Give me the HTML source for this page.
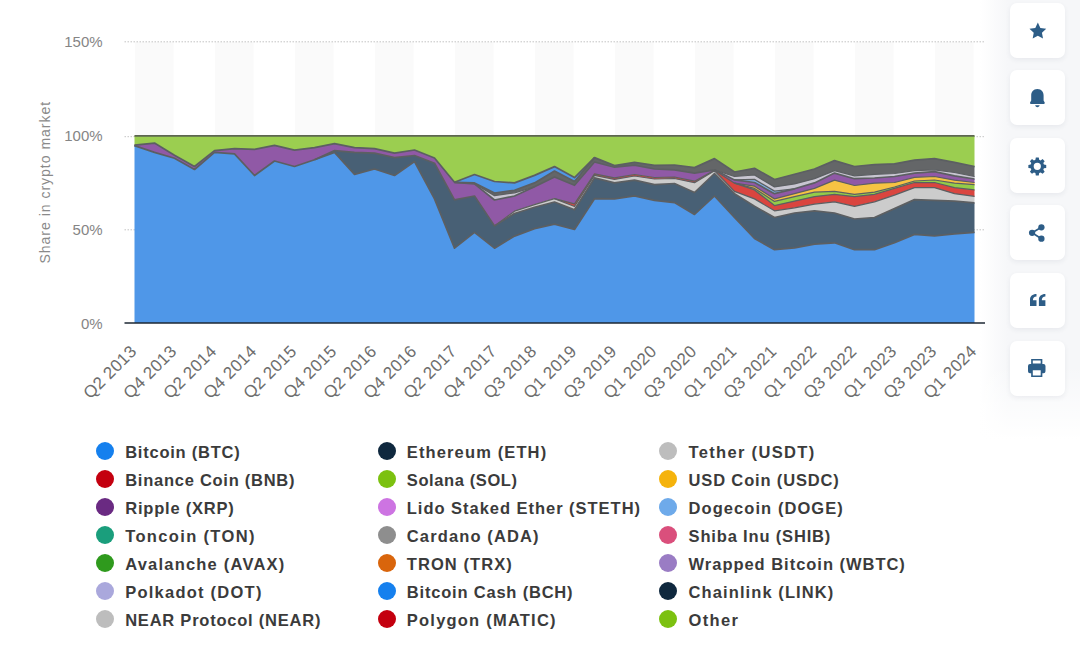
<!DOCTYPE html>
<html><head><meta charset="utf-8"><title>Share in crypto market</title>
<style>
html,body{margin:0;padding:0;background:#fff;}
body{width:1080px;height:671px;position:relative;overflow:hidden;font-family:"Liberation Sans",sans-serif;}
#side{position:absolute;left:980px;top:0;width:100px;height:440px;background:linear-gradient(to right,rgba(246,247,249,0) 0%,rgba(246,247,249,1) 28%,rgba(246,247,249,1) 100%);}
#sidefade{position:absolute;left:980px;top:365px;width:100px;height:75px;background:linear-gradient(to bottom,rgba(255,255,255,0),rgba(255,255,255,1));}
svg.chart{position:absolute;left:0;top:0;}
.ax{font-size:15px;fill:#858585;font-family:"Liberation Sans",sans-serif;}
.yt{font-size:14px;letter-spacing:1px;fill:#8a8a8a;font-family:"Liberation Sans",sans-serif;}
.xl{font-size:17px;letter-spacing:.25px;fill:#6d6d6d;font-family:"Liberation Sans",sans-serif;}
.dot{position:absolute;width:18px;height:18px;border-radius:50%;}
.lt{position:absolute;font-weight:bold;font-size:16.5px;letter-spacing:.75px;color:#3b3b3b;line-height:22px;white-space:nowrap;}
.btn{position:absolute;left:1010px;width:55px;height:55px;border-radius:7px;background:#fff;box-shadow:0 2px 5px rgba(40,60,90,.07);display:flex;align-items:center;justify-content:center;}
</style></head><body>
<div id="side"></div><div id="sidefade"></div>
<svg class="chart" width="1080" height="671" viewBox="0 0 1080 671">
<rect x="135.1" y="42" width="38.4" height="281" fill="#fafafa"/>
<rect x="215.1" y="42" width="38.4" height="281" fill="#fafafa"/>
<rect x="295.1" y="42" width="38.4" height="281" fill="#fafafa"/>
<rect x="375.1" y="42" width="38.4" height="281" fill="#fafafa"/>
<rect x="455.1" y="42" width="38.4" height="281" fill="#fafafa"/>
<rect x="535.1" y="42" width="38.4" height="281" fill="#fafafa"/>
<rect x="615.1" y="42" width="38.4" height="281" fill="#fafafa"/>
<rect x="695.1" y="42" width="38.4" height="281" fill="#fafafa"/>
<rect x="775.1" y="42" width="38.4" height="281" fill="#fafafa"/>
<rect x="855.1" y="42" width="38.4" height="281" fill="#fafafa"/>
<rect x="935.1" y="42" width="38.4" height="281" fill="#fafafa"/>
<line x1="124.5" x2="985" y1="41.8" y2="41.8" stroke="#c4c4c4" stroke-width="1" stroke-dasharray="1.5,1.5"/>
<line x1="124.5" x2="985" y1="136.7" y2="136.7" stroke="#c4c4c4" stroke-width="1" stroke-dasharray="1.5,1.5"/>
<line x1="124.5" x2="985" y1="229.8" y2="229.8" stroke="#c4c4c4" stroke-width="1" stroke-dasharray="1.5,1.5"/>
<polygon points="134.5,135.8 154.5,135.8 174.5,135.8 194.5,135.8 214.5,135.8 234.5,135.8 254.5,135.8 274.5,135.8 294.5,135.8 314.5,135.8 334.5,135.8 354.5,135.8 374.5,135.8 394.5,135.8 414.5,135.8 434.5,135.8 454.5,135.8 474.5,135.8 494.5,135.8 514.5,135.8 534.5,135.8 554.5,135.8 574.5,135.8 594.5,135.8 614.5,135.8 634.5,135.8 654.5,135.8 674.5,135.8 694.5,135.8 714.5,135.8 734.5,135.8 754.5,135.8 774.5,135.8 794.5,135.8 814.5,135.8 834.5,135.8 854.5,135.8 874.5,135.8 894.5,135.8 914.5,135.8 934.5,135.8 954.5,135.8 974.5,135.8 974.5,167.2 954.5,163.1 934.5,159.3 914.5,160.8 894.5,164.5 874.5,165.3 854.5,167.2 834.5,161.3 814.5,169.7 794.5,175.0 774.5,180.2 754.5,169.0 734.5,172.7 714.5,159.3 694.5,168.3 674.5,165.7 654.5,166.0 634.5,163.1 614.5,166.3 594.5,158.3 574.5,178.3 554.5,167.3 534.5,176.1 514.5,183.6 494.5,182.2 474.5,175.2 454.5,183.0 434.5,158.7 414.5,150.7 394.5,153.8 374.5,149.3 354.5,148.3 334.5,144.4 314.5,148.3 294.5,150.8 274.5,146.1 254.5,150.1 234.5,149.3 214.5,151.3 194.5,167.2 174.5,156.0 154.5,143.8 134.5,145.9" fill="#9bce50"/>
<polygon points="134.5,145.2 154.5,143.1 174.5,155.3 194.5,166.5 214.5,150.6 234.5,148.6 254.5,149.4 274.5,145.4 294.5,150.1 314.5,147.6 334.5,143.7 354.5,147.6 374.5,148.6 394.5,153.1 414.5,150.0 434.5,158.0 454.5,182.3 474.5,174.5 494.5,181.5 514.5,182.9 534.5,175.4 554.5,166.6 574.5,177.6 594.5,157.6 614.5,165.6 634.5,162.4 654.5,165.3 674.5,165.0 694.5,167.6 714.5,158.6 734.5,172.0 754.5,168.3 774.5,179.5 794.5,174.3 814.5,169.0 834.5,160.6 854.5,166.5 874.5,164.6 894.5,163.8 914.5,160.1 934.5,158.6 954.5,162.4 974.5,166.5 974.5,167.2 954.5,163.1 934.5,159.3 914.5,160.8 894.5,164.5 874.5,165.3 854.5,167.2 834.5,161.3 814.5,169.7 794.5,175.0 774.5,180.2 754.5,169.0 734.5,172.7 714.5,159.3 694.5,168.3 674.5,165.7 654.5,166.0 634.5,163.1 614.5,166.3 594.5,158.3 574.5,182.2 554.5,171.7 534.5,183.6 514.5,191.0 494.5,193.7 474.5,183.6 454.5,183.0 434.5,158.7 414.5,150.7 394.5,153.8 374.5,149.3 354.5,148.3 334.5,144.4 314.5,148.3 294.5,150.8 274.5,146.1 254.5,150.1 234.5,149.3 214.5,151.3 194.5,167.2 174.5,156.0 154.5,143.8 134.5,145.9" fill="#4f97e8"/>
<polygon points="134.5,145.2 154.5,143.1 174.5,155.3 194.5,166.5 214.5,150.6 234.5,148.6 254.5,149.4 274.5,145.4 294.5,150.1 314.5,147.6 334.5,143.7 354.5,147.6 374.5,148.6 394.5,153.1 414.5,150.0 434.5,158.0 454.5,182.3 474.5,182.9 494.5,193.0 514.5,190.3 534.5,182.9 554.5,171.0 574.5,181.5 594.5,157.6 614.5,165.6 634.5,162.4 654.5,165.3 674.5,165.0 694.5,167.6 714.5,158.6 734.5,172.0 754.5,168.3 774.5,179.5 794.5,174.3 814.5,169.0 834.5,160.6 854.5,166.5 874.5,164.6 894.5,163.8 914.5,160.1 934.5,158.6 954.5,162.4 974.5,166.5 974.5,177.2 954.5,173.2 934.5,170.5 914.5,171.3 894.5,174.2 874.5,175.0 854.5,176.5 834.5,171.3 814.5,179.4 794.5,184.6 774.5,187.6 754.5,175.7 734.5,177.2 714.5,170.5 694.5,173.8 674.5,170.5 654.5,169.7 634.5,165.9 614.5,167.9 594.5,162.7 574.5,186.0 554.5,177.7 534.5,187.5 514.5,193.5 494.5,196.3 474.5,184.5 454.5,183.0 434.5,158.7 414.5,150.7 394.5,153.8 374.5,149.3 354.5,148.3 334.5,144.4 314.5,148.3 294.5,150.8 274.5,146.1 254.5,150.1 234.5,149.3 214.5,151.3 194.5,167.2 174.5,156.0 154.5,143.8 134.5,145.9" fill="#646668"/>
<polygon points="134.5,145.2 154.5,143.1 174.5,155.3 194.5,166.5 214.5,150.6 234.5,148.6 254.5,149.4 274.5,145.4 294.5,150.1 314.5,147.6 334.5,143.7 354.5,147.6 374.5,148.6 394.5,153.1 414.5,150.0 434.5,158.0 454.5,182.3 474.5,183.8 494.5,195.6 514.5,192.8 534.5,186.8 554.5,177.0 574.5,185.3 594.5,162.0 614.5,167.2 634.5,165.2 654.5,169.0 674.5,169.8 694.5,173.1 714.5,169.8 734.5,176.5 754.5,175.0 774.5,186.9 794.5,183.9 814.5,178.7 834.5,170.6 854.5,175.8 874.5,174.3 894.5,173.5 914.5,170.6 934.5,169.8 954.5,172.5 974.5,176.5 974.5,179.7 954.5,176.5 934.5,172.3 914.5,173.8 894.5,177.2 874.5,178.7 854.5,179.4 834.5,173.8 814.5,183.6 794.5,189.5 774.5,191.8 754.5,180.1 734.5,180.6 714.5,170.5 694.5,173.8 674.5,170.5 654.5,169.7 634.5,165.9 614.5,167.9 594.5,162.7 574.5,186.0 554.5,177.7 534.5,187.5 514.5,196.7 494.5,200.7 474.5,184.5 454.5,183.0 434.5,158.7 414.5,150.7 394.5,153.8 374.5,149.3 354.5,148.3 334.5,144.4 314.5,148.3 294.5,150.8 274.5,146.1 254.5,150.1 234.5,149.3 214.5,151.3 194.5,167.2 174.5,156.0 154.5,143.8 134.5,145.9" fill="#c8c6d1"/>
<polygon points="134.5,145.2 154.5,143.1 174.5,155.3 194.5,166.5 214.5,150.6 234.5,148.6 254.5,149.4 274.5,145.4 294.5,150.1 314.5,147.6 334.5,143.7 354.5,147.6 374.5,148.6 394.5,153.1 414.5,150.0 434.5,158.0 454.5,182.3 474.5,183.8 494.5,200.0 514.5,196.0 534.5,186.8 554.5,177.0 574.5,185.3 594.5,162.0 614.5,167.2 634.5,165.2 654.5,169.0 674.5,169.8 694.5,173.1 714.5,169.8 734.5,179.9 754.5,179.4 774.5,191.1 794.5,188.8 814.5,182.9 834.5,173.1 854.5,178.7 874.5,178.0 894.5,176.5 914.5,173.1 934.5,171.6 954.5,175.8 974.5,179.0 974.5,179.7 954.5,176.5 934.5,172.3 914.5,173.8 894.5,177.2 874.5,178.7 854.5,179.4 834.5,173.8 814.5,183.6 794.5,189.5 774.5,194.4 754.5,183.2 734.5,180.6 714.5,170.5 694.5,173.8 674.5,170.5 654.5,169.7 634.5,165.9 614.5,167.9 594.5,162.7 574.5,186.0 554.5,177.7 534.5,187.5 514.5,196.7 494.5,200.7 474.5,184.5 454.5,183.0 434.5,158.7 414.5,150.7 394.5,153.8 374.5,149.3 354.5,148.3 334.5,144.4 314.5,148.3 294.5,150.8 274.5,146.1 254.5,150.1 234.5,149.3 214.5,151.3 194.5,167.2 174.5,156.0 154.5,143.8 134.5,145.9" fill="#7fb2ea"/>
<polygon points="134.5,145.2 154.5,143.1 174.5,155.3 194.5,166.5 214.5,150.6 234.5,148.6 254.5,149.4 274.5,145.4 294.5,150.1 314.5,147.6 334.5,143.7 354.5,147.6 374.5,148.6 394.5,153.1 414.5,150.0 434.5,158.0 454.5,182.3 474.5,183.8 494.5,200.0 514.5,196.0 534.5,186.8 554.5,177.0 574.5,185.3 594.5,162.0 614.5,167.2 634.5,165.2 654.5,169.0 674.5,169.8 694.5,173.1 714.5,169.8 734.5,179.9 754.5,182.5 774.5,193.7 794.5,188.8 814.5,182.9 834.5,173.1 854.5,178.7 874.5,178.0 894.5,176.5 914.5,173.1 934.5,171.6 954.5,175.8 974.5,179.0 974.5,183.2 954.5,180.9 934.5,177.2 914.5,178.0 894.5,183.2 874.5,183.9 854.5,186.2 834.5,180.9 814.5,189.1 794.5,194.4 774.5,199.6 754.5,186.9 734.5,183.9 714.5,171.0 694.5,181.9 674.5,177.7 654.5,178.2 634.5,175.2 614.5,178.6 594.5,174.5 574.5,204.5 554.5,199.3 534.5,205.3 514.5,211.9 494.5,226.6 474.5,196.7 454.5,200.5 434.5,163.9 414.5,156.2 394.5,158.3 374.5,153.8 354.5,153.1 334.5,151.3 314.5,160.5 294.5,167.2 274.5,161.7 254.5,176.2 234.5,154.5 214.5,153.1 194.5,170.2 174.5,159.0 154.5,153.1 134.5,146.3" fill="#9059a6"/>
<polygon points="134.5,145.6 154.5,152.4 174.5,158.3 194.5,169.5 214.5,152.4 234.5,153.8 254.5,175.5 274.5,161.0 294.5,166.5 314.5,159.8 334.5,150.6 354.5,152.4 374.5,153.1 394.5,157.6 414.5,155.5 434.5,163.2 454.5,199.8 474.5,196.0 494.5,225.9 514.5,211.2 534.5,204.6 554.5,198.6 574.5,203.8 594.5,173.8 614.5,177.9 634.5,174.5 654.5,177.5 674.5,177.0 694.5,181.2 714.5,170.3 734.5,183.2 754.5,186.2 774.5,198.9 794.5,193.7 814.5,188.4 834.5,180.2 854.5,185.5 874.5,183.2 894.5,182.5 914.5,177.3 934.5,176.5 954.5,180.2 974.5,182.5 974.5,185.4 954.5,183.9 934.5,180.7 914.5,181.7 894.5,187.7 874.5,192.9 854.5,195.1 834.5,192.1 814.5,192.9 794.5,197.3 774.5,202.1 754.5,189.1 734.5,183.9 714.5,171.0 694.5,181.9 674.5,177.7 654.5,178.2 634.5,175.2 614.5,178.6 594.5,174.5 574.5,204.5 554.5,199.3 534.5,205.3 514.5,211.9 494.5,226.6 474.5,196.7 454.5,200.5 434.5,163.9 414.5,156.2 394.5,158.3 374.5,153.8 354.5,153.1 334.5,151.3 314.5,160.5 294.5,167.2 274.5,161.7 254.5,176.2 234.5,154.5 214.5,153.1 194.5,170.2 174.5,159.0 154.5,153.1 134.5,146.3" fill="#f6c343"/>
<polygon points="134.5,145.6 154.5,152.4 174.5,158.3 194.5,169.5 214.5,152.4 234.5,153.8 254.5,175.5 274.5,161.0 294.5,166.5 314.5,159.8 334.5,150.6 354.5,152.4 374.5,153.1 394.5,157.6 414.5,155.5 434.5,163.2 454.5,199.8 474.5,196.0 494.5,225.9 514.5,211.2 534.5,204.6 554.5,198.6 574.5,203.8 594.5,173.8 614.5,177.9 634.5,174.5 654.5,177.5 674.5,177.0 694.5,181.2 714.5,170.3 734.5,183.2 754.5,188.4 774.5,201.4 794.5,196.6 814.5,192.2 834.5,191.4 854.5,194.4 874.5,192.2 894.5,187.0 914.5,181.0 934.5,180.0 954.5,183.2 974.5,184.7 974.5,190.6 954.5,188.4 934.5,183.2 914.5,183.2 894.5,189.1 874.5,195.1 854.5,197.3 834.5,195.1 814.5,197.3 794.5,201.8 774.5,206.3 754.5,190.6 734.5,183.9 714.5,171.0 694.5,181.9 674.5,177.7 654.5,178.2 634.5,175.2 614.5,178.6 594.5,174.5 574.5,204.5 554.5,199.3 534.5,205.3 514.5,211.9 494.5,226.6 474.5,196.7 454.5,200.5 434.5,163.9 414.5,156.2 394.5,158.3 374.5,153.8 354.5,153.1 334.5,151.3 314.5,160.5 294.5,167.2 274.5,161.7 254.5,176.2 234.5,154.5 214.5,153.1 194.5,170.2 174.5,159.0 154.5,153.1 134.5,146.3" fill="#93cc48"/>
<polygon points="134.5,145.6 154.5,152.4 174.5,158.3 194.5,169.5 214.5,152.4 234.5,153.8 254.5,175.5 274.5,161.0 294.5,166.5 314.5,159.8 334.5,150.6 354.5,152.4 374.5,153.1 394.5,157.6 414.5,155.5 434.5,163.2 454.5,199.8 474.5,196.0 494.5,225.9 514.5,211.2 534.5,204.6 554.5,198.6 574.5,203.8 594.5,173.8 614.5,177.9 634.5,174.5 654.5,177.5 674.5,177.0 694.5,181.2 714.5,170.3 734.5,183.2 754.5,189.9 774.5,205.6 794.5,201.1 814.5,196.6 834.5,194.4 854.5,196.6 874.5,194.4 894.5,188.4 914.5,182.5 934.5,182.5 954.5,187.7 974.5,189.9 974.5,197.0 954.5,194.4 934.5,188.4 914.5,188.4 894.5,195.8 874.5,202.5 854.5,207.0 834.5,202.5 814.5,204.8 794.5,208.5 774.5,211.5 754.5,199.6 734.5,192.1 714.5,171.5 694.5,183.4 674.5,179.2 654.5,179.7 634.5,176.7 614.5,180.1 594.5,176.0 574.5,207.2 554.5,199.3 534.5,205.3 514.5,211.9 494.5,226.6 474.5,196.7 454.5,200.5 434.5,163.9 414.5,156.2 394.5,158.3 374.5,153.8 354.5,153.1 334.5,151.3 314.5,160.5 294.5,167.2 274.5,161.7 254.5,176.2 234.5,154.5 214.5,153.1 194.5,170.2 174.5,159.0 154.5,153.1 134.5,146.3" fill="#da453f"/>
<polygon points="134.5,145.6 154.5,152.4 174.5,158.3 194.5,169.5 214.5,152.4 234.5,153.8 254.5,175.5 274.5,161.0 294.5,166.5 314.5,159.8 334.5,150.6 354.5,152.4 374.5,153.1 394.5,157.6 414.5,155.5 434.5,163.2 454.5,199.8 474.5,196.0 494.5,225.9 514.5,211.2 534.5,204.6 554.5,198.6 574.5,206.5 594.5,175.3 614.5,179.4 634.5,176.0 654.5,179.0 674.5,178.5 694.5,182.7 714.5,170.8 734.5,191.4 754.5,198.9 774.5,210.8 794.5,207.8 814.5,204.1 834.5,201.8 854.5,206.3 874.5,201.8 894.5,195.1 914.5,187.7 934.5,187.7 954.5,193.7 974.5,196.3 974.5,203.6 954.5,201.8 934.5,201.1 914.5,200.3 894.5,209.3 874.5,218.2 854.5,219.7 834.5,213.7 814.5,211.5 794.5,213.7 774.5,218.2 754.5,207.0 734.5,194.4 714.5,174.2 694.5,193.2 674.5,184.2 654.5,185.4 634.5,180.9 614.5,183.5 594.5,178.6 574.5,210.5 554.5,202.7 534.5,208.0 514.5,214.2 494.5,226.6 474.5,196.7 454.5,200.5 434.5,163.9 414.5,156.2 394.5,158.3 374.5,153.8 354.5,153.1 334.5,151.3 314.5,160.5 294.5,167.2 274.5,161.7 254.5,176.2 234.5,154.5 214.5,153.1 194.5,170.2 174.5,159.0 154.5,153.1 134.5,146.3" fill="#cccccc"/>
<polygon points="134.5,145.6 154.5,152.4 174.5,158.3 194.5,169.5 214.5,152.4 234.5,153.8 254.5,175.5 274.5,161.0 294.5,166.5 314.5,159.8 334.5,150.6 354.5,152.4 374.5,153.1 394.5,157.6 414.5,155.5 434.5,163.2 454.5,199.8 474.5,196.0 494.5,225.9 514.5,213.5 534.5,207.3 554.5,202.0 574.5,209.8 594.5,177.9 614.5,182.8 634.5,180.2 654.5,184.7 674.5,183.5 694.5,192.5 714.5,173.5 734.5,193.7 754.5,206.3 774.5,217.5 794.5,213.0 814.5,210.8 834.5,213.0 854.5,219.0 874.5,217.5 894.5,208.6 914.5,199.6 934.5,200.4 954.5,201.1 974.5,202.9 974.5,233.0 954.5,234.6 934.5,236.5 914.5,235.1 894.5,243.5 874.5,250.4 854.5,250.4 834.5,243.5 814.5,244.9 794.5,248.5 774.5,250.4 754.5,239.2 734.5,218.2 714.5,196.7 694.5,215.2 674.5,203.3 654.5,201.1 634.5,196.6 614.5,199.6 594.5,199.4 574.5,230.2 554.5,224.8 534.5,229.4 514.5,236.8 494.5,248.9 474.5,233.1 454.5,248.9 434.5,199.6 414.5,162.2 394.5,176.2 374.5,169.7 354.5,175.1 334.5,153.1 314.5,160.5 294.5,167.2 274.5,161.7 254.5,176.2 234.5,154.5 214.5,153.1 194.5,170.2 174.5,159.0 154.5,153.1 134.5,146.3" fill="#486075"/>
<polygon points="134.5,145.6 154.5,152.4 174.5,158.3 194.5,169.5 214.5,152.4 234.5,153.8 254.5,175.5 274.5,161.0 294.5,166.5 314.5,159.8 334.5,152.4 354.5,174.4 374.5,169.0 394.5,175.5 414.5,161.5 434.5,198.9 454.5,248.2 474.5,232.4 494.5,248.2 514.5,236.1 534.5,228.7 554.5,224.1 574.5,229.5 594.5,198.7 614.5,198.9 634.5,195.9 654.5,200.4 674.5,202.6 694.5,214.5 714.5,196.0 734.5,217.5 754.5,238.5 774.5,249.7 794.5,247.8 814.5,244.2 834.5,242.8 854.5,249.7 874.5,249.7 894.5,242.8 914.5,234.4 934.5,235.8 954.5,233.9 974.5,232.3 974.5,323.0 954.5,323.0 934.5,323.0 914.5,323.0 894.5,323.0 874.5,323.0 854.5,323.0 834.5,323.0 814.5,323.0 794.5,323.0 774.5,323.0 754.5,323.0 734.5,323.0 714.5,323.0 694.5,323.0 674.5,323.0 654.5,323.0 634.5,323.0 614.5,323.0 594.5,323.0 574.5,323.0 554.5,323.0 534.5,323.0 514.5,323.0 494.5,323.0 474.5,323.0 454.5,323.0 434.5,323.0 414.5,323.0 394.5,323.0 374.5,323.0 354.5,323.0 334.5,323.0 314.5,323.0 294.5,323.0 274.5,323.0 254.5,323.0 234.5,323.0 214.5,323.0 194.5,323.0 174.5,323.0 154.5,323.0 134.5,323.0" fill="#4f97e8"/>
<polyline points="134.5,135.8 154.5,135.8 174.5,135.8 194.5,135.8 214.5,135.8 234.5,135.8 254.5,135.8 274.5,135.8 294.5,135.8 314.5,135.8 334.5,135.8 354.5,135.8 374.5,135.8 394.5,135.8 414.5,135.8 434.5,135.8 454.5,135.8 474.5,135.8 494.5,135.8 514.5,135.8 534.5,135.8 554.5,135.8 574.5,135.8 594.5,135.8 614.5,135.8 634.5,135.8 654.5,135.8 674.5,135.8 694.5,135.8 714.5,135.8 734.5,135.8 754.5,135.8 774.5,135.8 794.5,135.8 814.5,135.8 834.5,135.8 854.5,135.8 874.5,135.8 894.5,135.8 914.5,135.8 934.5,135.8 954.5,135.8 974.5,135.8" fill="none" stroke="#5d6650" stroke-width="1.8" stroke-linejoin="round"/>
<polyline points="454.5,182.3 474.5,174.5 494.5,181.5 514.5,182.9 534.5,175.4 554.5,166.6 574.5,177.6 594.5,157.6" fill="none" stroke="#5c5f62" stroke-width="1.7" stroke-linejoin="round"/>
<polyline points="454.5,182.3 474.5,182.9 494.5,193.0 514.5,190.3 534.5,182.9 554.5,171.0 574.5,181.5 594.5,157.6 614.5,165.6 634.5,162.4 654.5,165.3 674.5,165.0 694.5,167.6 714.5,158.6 734.5,172.0 754.5,168.3 774.5,179.5 794.5,174.3 814.5,169.0 834.5,160.6 854.5,166.5 874.5,164.6 894.5,163.8 914.5,160.1 934.5,158.6 954.5,162.4 974.5,166.5" fill="none" stroke="#5c5f62" stroke-width="1.7" stroke-linejoin="round"/>
<polyline points="474.5,183.8 494.5,195.6 514.5,192.8 534.5,186.8" fill="none" stroke="#5c5f62" stroke-width="1.25" stroke-linejoin="round"/>
<polyline points="714.5,169.8 734.5,176.5 754.5,175.0 774.5,186.9 794.5,183.9 814.5,178.7 834.5,170.6 854.5,175.8 874.5,174.3 894.5,173.5 914.5,170.6 934.5,169.8 954.5,172.5 974.5,176.5" fill="none" stroke="#5c5f62" stroke-width="1.25" stroke-linejoin="round"/>
<polyline points="734.5,179.9 754.5,179.4 774.5,191.1 794.5,188.8" fill="none" stroke="#5c5f62" stroke-width="1.25" stroke-linejoin="round"/>
<polyline points="134.5,145.2 154.5,143.1 174.5,155.3 194.5,166.5 214.5,150.6 234.5,148.6 254.5,149.4 274.5,145.4 294.5,150.1 314.5,147.6 334.5,143.7 354.5,147.6 374.5,148.6 394.5,153.1 414.5,150.0 434.5,158.0 454.5,182.3 474.5,183.8 494.5,200.0 514.5,196.0 534.5,186.8 554.5,177.0 574.5,185.3 594.5,162.0 614.5,167.2 634.5,165.2 654.5,169.0 674.5,169.8 694.5,173.1 714.5,169.8 734.5,179.9 754.5,182.5 774.5,193.7 794.5,188.8 814.5,182.9 834.5,173.1 854.5,178.7 874.5,178.0 894.5,176.5 914.5,173.1 934.5,171.6 954.5,175.8 974.5,179.0" fill="none" stroke="#5c5f62" stroke-width="1.7" stroke-linejoin="round"/>
<polyline points="734.5,183.2 754.5,186.2 774.5,198.9 794.5,193.7 814.5,188.4 834.5,180.2 854.5,185.5 874.5,183.2 894.5,182.5 914.5,177.3 934.5,176.5 954.5,180.2 974.5,182.5" fill="none" stroke="#5c5f62" stroke-width="1.25" stroke-linejoin="round"/>
<polyline points="734.5,183.2 754.5,188.4 774.5,201.4 794.5,196.6 814.5,192.2 834.5,191.4 854.5,194.4 874.5,192.2 894.5,187.0 914.5,181.0 934.5,180.0 954.5,183.2 974.5,184.7" fill="none" stroke="#5c5f62" stroke-width="1.25" stroke-linejoin="round"/>
<polyline points="554.5,198.6 574.5,203.8 594.5,173.8 614.5,177.9 634.5,174.5 654.5,177.5 674.5,177.0 694.5,181.2 714.5,170.3 734.5,183.2 754.5,189.9 774.5,205.6 794.5,201.1 814.5,196.6 834.5,194.4 854.5,196.6 874.5,194.4 894.5,188.4 914.5,182.5 934.5,182.5 954.5,187.7 974.5,189.9" fill="none" stroke="#5c5f62" stroke-width="1.25" stroke-linejoin="round"/>
<polyline points="494.5,225.9 514.5,211.2 534.5,204.6 554.5,198.6 574.5,206.5 594.5,175.3 614.5,179.4 634.5,176.0 654.5,179.0 674.5,178.5 694.5,182.7 714.5,170.8 734.5,191.4 754.5,198.9 774.5,210.8 794.5,207.8 814.5,204.1 834.5,201.8 854.5,206.3 874.5,201.8 894.5,195.1 914.5,187.7 934.5,187.7 954.5,193.7 974.5,196.3" fill="none" stroke="#5c5f62" stroke-width="1.25" stroke-linejoin="round"/>
<polyline points="314.5,159.8 334.5,150.6 354.5,152.4 374.5,153.1 394.5,157.6 414.5,155.5 434.5,163.2 454.5,199.8 474.5,196.0 494.5,225.9 514.5,213.5 534.5,207.3 554.5,202.0 574.5,209.8 594.5,177.9 614.5,182.8 634.5,180.2 654.5,184.7 674.5,183.5 694.5,192.5 714.5,173.5 734.5,193.7 754.5,206.3 774.5,217.5 794.5,213.0 814.5,210.8 834.5,213.0 854.5,219.0 874.5,217.5 894.5,208.6 914.5,199.6 934.5,200.4 954.5,201.1 974.5,202.9" fill="none" stroke="#5c5f62" stroke-width="1.7" stroke-linejoin="round"/>
<polyline points="134.5,145.6 154.5,152.4 174.5,158.3 194.5,169.5 214.5,152.4 234.5,153.8 254.5,175.5 274.5,161.0 294.5,166.5 314.5,159.8 334.5,152.4 354.5,174.4 374.5,169.0 394.5,175.5 414.5,161.5 434.5,198.9 454.5,248.2 474.5,232.4 494.5,248.2 514.5,236.1 534.5,228.7 554.5,224.1 574.5,229.5 594.5,198.7 614.5,198.9 634.5,195.9 654.5,200.4 674.5,202.6 694.5,214.5 714.5,196.0 734.5,217.5 754.5,238.5 774.5,249.7 794.5,247.8 814.5,244.2 834.5,242.8 854.5,249.7 874.5,249.7 894.5,242.8 914.5,234.4 934.5,235.8 954.5,233.9 974.5,232.3" fill="none" stroke="#5c5f62" stroke-width="1.7" stroke-linejoin="round"/>
<line x1="124.5" x2="985" y1="323" y2="323" stroke="#1c2733" stroke-width="1.6"/>
<text x="102.6" y="47.2" text-anchor="end" class="ax">150%</text>
<text x="102.6" y="141.3" text-anchor="end" class="ax">100%</text>
<text x="102.6" y="235.1" text-anchor="end" class="ax">50%</text>
<text x="102.6" y="328.7" text-anchor="end" class="ax">0%</text>
<text transform="translate(50,182.2) rotate(-90)" text-anchor="middle" class="yt">Share in crypto market</text>
<text transform="translate(137.5,352.5) rotate(-45)" text-anchor="end" class="xl">Q2 2013</text>
<text transform="translate(177.5,352.5) rotate(-45)" text-anchor="end" class="xl">Q4 2013</text>
<text transform="translate(217.5,352.5) rotate(-45)" text-anchor="end" class="xl">Q2 2014</text>
<text transform="translate(257.5,352.5) rotate(-45)" text-anchor="end" class="xl">Q4 2014</text>
<text transform="translate(297.5,352.5) rotate(-45)" text-anchor="end" class="xl">Q2 2015</text>
<text transform="translate(337.5,352.5) rotate(-45)" text-anchor="end" class="xl">Q4 2015</text>
<text transform="translate(377.5,352.5) rotate(-45)" text-anchor="end" class="xl">Q2 2016</text>
<text transform="translate(417.5,352.5) rotate(-45)" text-anchor="end" class="xl">Q4 2016</text>
<text transform="translate(457.5,352.5) rotate(-45)" text-anchor="end" class="xl">Q2 2017</text>
<text transform="translate(497.5,352.5) rotate(-45)" text-anchor="end" class="xl">Q4 2017</text>
<text transform="translate(537.5,352.5) rotate(-45)" text-anchor="end" class="xl">Q3 2018</text>
<text transform="translate(577.5,352.5) rotate(-45)" text-anchor="end" class="xl">Q1 2019</text>
<text transform="translate(617.5,352.5) rotate(-45)" text-anchor="end" class="xl">Q3 2019</text>
<text transform="translate(657.5,352.5) rotate(-45)" text-anchor="end" class="xl">Q1 2020</text>
<text transform="translate(697.5,352.5) rotate(-45)" text-anchor="end" class="xl">Q3 2020</text>
<text transform="translate(737.5,352.5) rotate(-45)" text-anchor="end" class="xl">Q1 2021</text>
<text transform="translate(777.5,352.5) rotate(-45)" text-anchor="end" class="xl">Q3 2021</text>
<text transform="translate(817.5,352.5) rotate(-45)" text-anchor="end" class="xl">Q1 2022</text>
<text transform="translate(857.5,352.5) rotate(-45)" text-anchor="end" class="xl">Q3 2022</text>
<text transform="translate(897.5,352.5) rotate(-45)" text-anchor="end" class="xl">Q1 2023</text>
<text transform="translate(937.5,352.5) rotate(-45)" text-anchor="end" class="xl">Q3 2023</text>
<text transform="translate(977.5,352.5) rotate(-45)" text-anchor="end" class="xl">Q1 2024</text>
</svg>
<div class="dot" style="left:96.0px;top:442.3px;background:#1580ee"></div>
<div class="lt" style="left:125.2px;top:441.0px;letter-spacing:0.76px">Bitcoin (BTC)</div>
<div class="dot" style="left:377.6px;top:442.3px;background:#0f283e"></div>
<div class="lt" style="left:406.8px;top:441.0px;letter-spacing:1.13px">Ethereum (ETH)</div>
<div class="dot" style="left:659.4px;top:442.3px;background:#bdbdbd"></div>
<div class="lt" style="left:688.6px;top:441.0px;letter-spacing:1.32px">Tether (USDT)</div>
<div class="dot" style="left:96.0px;top:470.2px;background:#c4000f"></div>
<div class="lt" style="left:125.2px;top:468.9px;letter-spacing:0.74px">Binance Coin (BNB)</div>
<div class="dot" style="left:377.6px;top:470.2px;background:#7cc110"></div>
<div class="lt" style="left:406.8px;top:468.9px;letter-spacing:0.6px">Solana (SOL)</div>
<div class="dot" style="left:659.4px;top:470.2px;background:#f5b30c"></div>
<div class="lt" style="left:688.6px;top:468.9px;letter-spacing:0.84px">USD Coin (USDC)</div>
<div class="dot" style="left:96.0px;top:498.1px;background:#6a2a82"></div>
<div class="lt" style="left:125.2px;top:496.8px;letter-spacing:0.79px">Ripple (XRP)</div>
<div class="dot" style="left:377.6px;top:498.1px;background:#cd74e2"></div>
<div class="lt" style="left:406.8px;top:496.8px;letter-spacing:0.97px">Lido Staked Ether (STETH)</div>
<div class="dot" style="left:659.4px;top:498.1px;background:#6eaaea"></div>
<div class="lt" style="left:688.6px;top:496.8px;letter-spacing:1.06px">Dogecoin (DOGE)</div>
<div class="dot" style="left:96.0px;top:526.1px;background:#1a9e7c"></div>
<div class="lt" style="left:125.2px;top:524.8px;letter-spacing:1.35px">Toncoin (TON)</div>
<div class="dot" style="left:377.6px;top:526.1px;background:#8e8e8e"></div>
<div class="lt" style="left:406.8px;top:524.8px;letter-spacing:1.13px">Cardano (ADA)</div>
<div class="dot" style="left:659.4px;top:526.1px;background:#da4f7c"></div>
<div class="lt" style="left:688.6px;top:524.8px;letter-spacing:0.83px">Shiba Inu (SHIB)</div>
<div class="dot" style="left:96.0px;top:554.0px;background:#2f9a1d"></div>
<div class="lt" style="left:125.2px;top:552.7px;letter-spacing:1.21px">Avalanche (AVAX)</div>
<div class="dot" style="left:377.6px;top:554.0px;background:#d9650c"></div>
<div class="lt" style="left:406.8px;top:552.7px;letter-spacing:1.07px">TRON (TRX)</div>
<div class="dot" style="left:659.4px;top:554.0px;background:#9a7cc4"></div>
<div class="lt" style="left:688.6px;top:552.7px;letter-spacing:0.97px">Wrapped Bitcoin (WBTC)</div>
<div class="dot" style="left:96.0px;top:581.9px;background:#aaa8dc"></div>
<div class="lt" style="left:125.2px;top:580.6px;letter-spacing:1.24px">Polkadot (DOT)</div>
<div class="dot" style="left:377.6px;top:581.9px;background:#1580ee"></div>
<div class="lt" style="left:406.8px;top:580.6px;letter-spacing:0.8px">Bitcoin Cash (BCH)</div>
<div class="dot" style="left:659.4px;top:581.9px;background:#0f283e"></div>
<div class="lt" style="left:688.6px;top:580.6px;letter-spacing:1.09px">Chainlink (LINK)</div>
<div class="dot" style="left:96.0px;top:609.8px;background:#bdbdbd"></div>
<div class="lt" style="left:125.2px;top:608.5px;letter-spacing:0.77px">NEAR Protocol (NEAR)</div>
<div class="dot" style="left:377.6px;top:609.8px;background:#c4000f"></div>
<div class="lt" style="left:406.8px;top:608.5px;letter-spacing:1.22px">Polygon (MATIC)</div>
<div class="dot" style="left:659.4px;top:609.8px;background:#7cc110"></div>
<div class="lt" style="left:688.6px;top:608.5px;letter-spacing:1.35px">Other</div>
<div class="btn" style="top:3.0px"></div>
<div class="btn" style="top:70.4px"></div>
<div class="btn" style="top:137.8px"></div>
<div class="btn" style="top:205.3px"></div>
<div class="btn" style="top:272.8px"></div>
<div class="btn" style="top:340.7px"></div>
<svg style="position:absolute;left:1027.7px;top:21.3px;overflow:visible" width="19.7" height="19.7" viewBox="0 0 24 24"><path fill="#2d5d87" d="M12 1.8l3.1 6.6 7.1.9-5.2 5 1.3 7.1L12 17.9 5.7 21.4 7 14.3l-5.2-5 7.1-.9z"/></svg>
<svg style="position:absolute;left:1030.2px;top:89.0px;overflow:visible" width="14.8" height="18.2" viewBox="0 0 14.8 18.2"><path fill="#2d5d87" d="M7.4 0C3.2 0 1.2 3 1.2 6.5V11.5L.1 13.6C-.2 14.3.2 15.1 1 15.1H13.8C14.6 15.1 15 14.3 14.7 13.6L13.6 11.5V6.5C13.6 3 11.6 0 7.4 0Z"/><path fill="#2d5d87" d="M5.2 16.3h4.4c0 1.100-1 1.900-2.200 1.900s-2.200-.8-2.200-1.900z"/></svg>
<svg style="position:absolute;left:1027.2px;top:155.5px;overflow:visible" width="20.6" height="20.6" viewBox="0 0 24 24"><path fill="#2d5d87" fill-rule="evenodd" d="M10.300 1.800h3.400l.5 2.700 1.700.7 2.300-1.600 2.400 2.400-1.600 2.300.7 1.700 2.700.5v3.400l-2.700.5-.7 1.700 1.600 2.300-2.400 2.400-2.300-1.600-1.700.7-.5 2.700h-3.400l-.5-2.700-1.700-.7-2.300 1.600-2.400-2.400 1.600-2.300-.7-1.700-2.700-.5v-3.400l2.700-.5.7-1.700-1.600-2.300 2.400-2.400 2.300 1.600 1.700-.7zM12 7.800a4.200 4.200 0 100 8.400 4.200 4.200 0 000-8.400z"/></svg>
<svg style="position:absolute;left:1020px;top:215px;overflow:visible" width="40" height="40" viewBox="0 0 40 40"><g fill="#2d5d87"><circle cx="21.400" cy="12.300" r="3.150"/><circle cx="12.100" cy="17.800" r="3.150"/><circle cx="21.400" cy="23.700" r="3.150"/></g><path d="M21.400 12.300L12.100 17.800l9.300 5.900" fill="none" stroke="#2d5d87" stroke-width="1.700"/></svg>
<svg style="position:absolute;left:1030.0px;top:294.3px;overflow:visible" width="15.4" height="12.1" viewBox="0 0 15.4 12.1"><path fill="#2d5d87" d="M0 12.100V5.800C0 2.200 2.400 0 6.500 0V2.400C4.200 2.500 2.900 3.800 2.900 6.300H6.500V12.100ZM8.900 12.100V5.800C8.900 2.200 11.300 0 15.400 0V2.400C13.100 2.500 11.800 3.800 11.800 6.300H15.400V12.100Z"/></svg>
<svg style="position:absolute;left:1028.4px;top:358.8px;overflow:visible" width="17.5" height="17.9" viewBox="0 0 17.5 17.9"><path fill="#2d5d87" fill-rule="evenodd" d="M3.150 0h11.200v4.900h1.150a2 2 0 0 1 2 2v5.400a2 2 0 0 1-2 2h-1.150v3.600h-11.200v-3.600h-1.150a2 2 0 0 1-2-2v-5.400a2 2 0 0 1 2-2h1.150zM4.800 1.600v3.000h7.900v-3.000zM4.800 11.200v5.200h7.900v-5.200z"/></svg>
</body></html>
